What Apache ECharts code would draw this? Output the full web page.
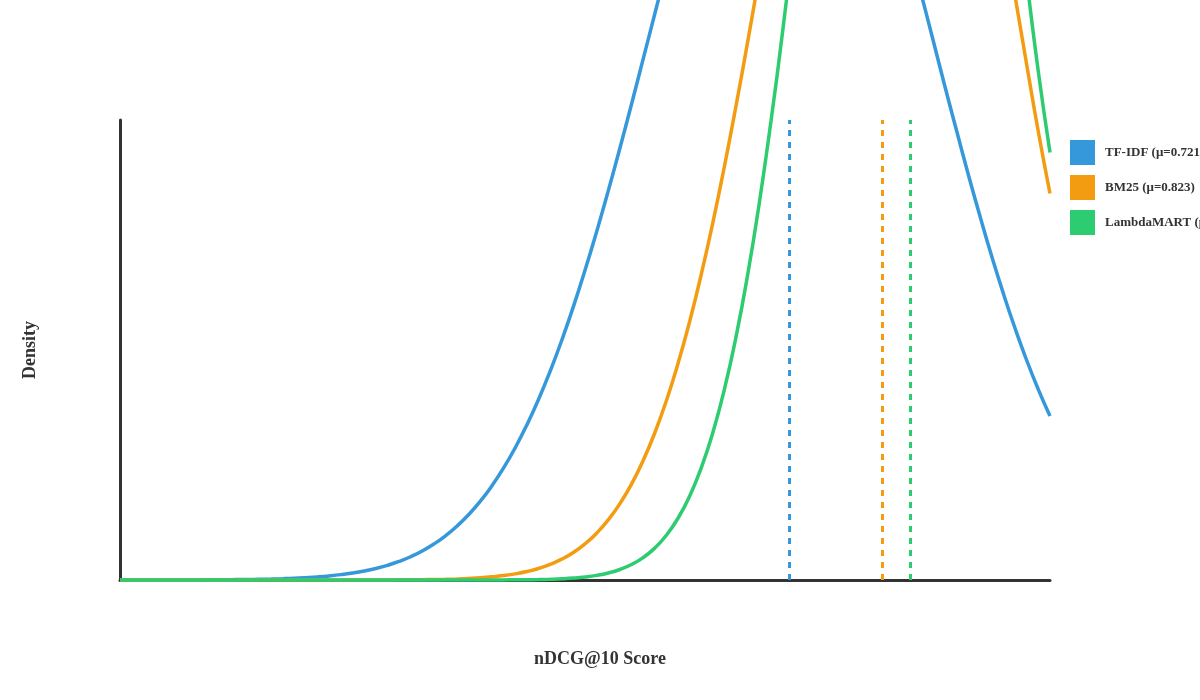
<!DOCTYPE html>
<html>
<head>
<meta charset="utf-8">
<script src="https://cdn.jsdelivr.net/npm/echarts@6/dist/echarts.min.js"></script>
<style>
  html, body { margin: 0; padding: 0; background: #fff; }
  #chart { width: 1200px; height: 700px; }
</style>
</head>
<body>
<div id="chart"></div>
<script>
// nDCG@10 score grid (x positions of the density samples, step 0.0125)
const scores = [0, 0.0125, 0.025, 0.0375, 0.05, 0.0625, 0.075, 0.0875, 0.1, 0.1125,
  0.125, 0.1375, 0.15, 0.1625, 0.175, 0.1875, 0.2, 0.2125, 0.225, 0.2375,
  0.25, 0.2625, 0.275, 0.2875, 0.3, 0.3125, 0.325, 0.3375, 0.35, 0.3625,
  0.375, 0.3875, 0.4, 0.4125, 0.425, 0.4375, 0.45, 0.4625, 0.475, 0.4875,
  0.5, 0.5125, 0.525, 0.5375, 0.55, 0.5625, 0.575, 0.5875, 0.6, 0.6125,
  0.625, 0.6375, 0.65, 0.6625, 0.675, 0.6875, 0.7, 0.7125, 0.725, 0.7375,
  0.75, 0.7625, 0.775, 0.7875, 0.8, 0.8125, 0.825, 0.8375, 0.85, 0.8625,
  0.875, 0.8875, 0.9, 0.9125, 0.925, 0.9375, 0.95, 0.9625, 0.975, 0.9875, 1.0]

// density values
const tfidf = [0, 0, 0.0001, 0.0001, 0.0001, 0.0002, 0.0003, 0.0004, 0.0006, 0.0008,
  0.0011, 0.0015, 0.0021, 0.0028, 0.0038, 0.0051, 0.0069, 0.0091, 0.012, 0.0157,
  0.0204, 0.0263, 0.0337, 0.0429, 0.0542, 0.068, 0.0848, 0.105, 0.1292, 0.1578,
  0.1914, 0.2305, 0.2758, 0.3276, 0.3868, 0.4534, 0.5279, 0.6103, 0.7007, 0.7992,
  0.9054, 1.0185, 1.1377, 1.2626, 1.391, 1.5229, 1.655, 1.7873, 1.917, 2.0407,
  2.159, 2.2674, 2.366, 2.451, 2.522, 2.578, 2.617, 2.638, 2.641, 2.626,
  2.594, 2.544, 2.478, 2.398, 2.304, 2.199, 2.084, 1.962, 1.834, 1.703,
  1.571, 1.438, 1.309, 1.182, 1.061, 0.9451, 0.8365, 0.7353, 0.6418, 0.5567, 0.4793]

const bm25 = [0, 0, 0, 0, 0, 0, 0, 0, 0, 0,
  0, 0, 0, 0, 0, 0, 0, 0, 0, 0,
  0.0001, 0.0001, 0.0002, 0.0003, 0.0004, 0.0006, 0.001, 0.0014, 0.0021, 0.0031,
  0.0045, 0.0064, 0.0092, 0.0129, 0.0179, 0.0247, 0.0337, 0.0456, 0.0609, 0.0806,
  0.1056, 0.1369, 0.1756, 0.2232, 0.2803, 0.3491, 0.4298, 0.5242, 0.6328, 0.7555,
  0.8935, 1.0452, 1.2106, 1.388, 1.575, 1.769, 1.967, 2.164, 2.358, 2.542,
  2.712, 2.865, 2.995, 3.099, 3.174, 3.218, 3.23, 3.208, 3.154, 3.069,
  2.956, 2.818, 2.659, 2.484, 2.297, 2.102, 1.903, 1.706, 1.506, 1.31, 1.13]

const lambdamart = [0, 0, 0, 0, 0, 0, 0, 0, 0, 0,
  0, 0, 0, 0, 0, 0, 0, 0, 0, 0,
  0, 0, 0, 0, 0, 0, 0, 0, 0, 0,
  0, 0.0001, 0.0002, 0.0003, 0.0005, 0.0008, 0.0013, 0.0022, 0.0035, 0.0056,
  0.0088, 0.0135, 0.0205, 0.0307, 0.0452, 0.0654, 0.0932, 0.1307, 0.1805, 0.2451,
  0.3278, 0.4312, 0.5586, 0.7121, 0.8939, 1.104, 1.342, 1.604, 1.889, 2.189,
  2.496, 2.802, 3.095, 3.365, 3.601, 3.793, 3.932, 4.011, 4.028, 3.981,
  3.872, 3.707, 3.493, 3.239, 2.956, 2.656, 2.348, 2.043, 1.755, 1.485, 1.25]

const names = ['TF-IDF (μ=0.721)', 'BM25 (μ=0.823)', 'LambdaMART (μ=0.847)']
const means = [0.721, 0.823, 0.847]
const colors = ['#3498db', '#f39c12', '#2ecc71']
const densities = [tfidf, bm25, lambdamart]

const font = '"Liberation Serif", "Times New Roman", serif'
const chart = echarts.init(document.getElementById('chart'))

const series = names.map((name, i) => ({
    name: name,
    type: 'line',
    data: scores.map((s, j) => [s, densities[i][j]]),
    smooth: 0.5,
    showSymbol: false,
    clip: false,
    color: colors[i],
    lineStyle: {width: 3.5, color: colors[i]},
    z: 2 + i,
    markLine: {
        silent: true,
        symbol: 'none',
        label: {show: false},
        lineStyle: {color: colors[i], type: [6, 6], width: 3},
        data: [{xAxis: means[i]}]
    }
}))

chart.setOption({
    backgroundColor: '#fff',
    animation: false,
    grid: {left: 120, right: 150, top: 120, bottom: 120},
    legend: {
        orient: 'vertical',
        left: 1070,
        top: 140,
        padding: 0,
        icon: 'rect',
        itemWidth: 25,
        itemHeight: 25,
        itemGap: 10,
        data: names,
        textStyle: {fontFamily: font, fontWeight: 'bold', fontSize: 13, color: '#333', padding: [0, 0, 0, 5]}
    },
    graphic: [
        {
            type: 'text',
            x: 600, y: 659,
            style: {text: 'nDCG@10 Score', fontFamily: font, fontWeight: 'bold', fontSize: 18,
                fill: '#333', align: 'center', verticalAlign: 'middle'}
        },
        {
            type: 'text',
            x: 30, y: 350,
            rotation: Math.PI / 2,
            style: {text: 'Density', fontFamily: font, fontWeight: 'bold', fontSize: 18,
                fill: '#333', align: 'center', verticalAlign: 'middle'}
        }
    ],
    xAxis: {
        type: 'value',
        min: 0,
        max: 1,
        axisLine: {show: true, lineStyle: {color: '#333', width: 3}},
        axisTick: {show: false},
        axisLabel: {show: false},
        splitLine: {show: false}
    },
    yAxis: {
        type: 'value',
        min: 0,
        max: 1.345,
        axisLine: {show: true, lineStyle: {color: '#333', width: 3}},
        axisTick: {show: false},
        axisLabel: {show: false},
        splitLine: {show: false}
    },
    series: series
})
</script>
</body>
</html>
